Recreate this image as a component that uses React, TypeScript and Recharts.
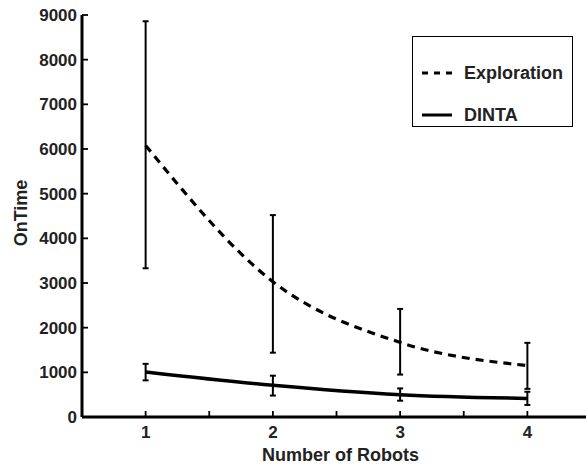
import React from 'react';
import { LineChart, Line, XAxis, YAxis, ErrorBar, Legend } from 'recharts';

// mean OnTime with min/max spread per team size
const robots = [1, 2, 3, 4];
const explorationMean = [6080, 3030, 1670, 1150];
const explorationLow = [3330, 1440, 950, 630];
const explorationHigh = [8860, 4520, 2420, 1660];
const dintaMean = [1010, 710, 500, 415];
const dintaLow = [820, 480, 365, 270];
const dintaHigh = [1190, 925, 640, 565];

const seriesNames = ['Exploration', 'DINTA'];
const xTicks = [1, 1.5, 2, 2.5, 3, 3.5, 4];
const yTicks = [0, 1000, 2000, 3000, 4000, 5000, 6000, 7000, 8000, 9000];

const data = robots.map((n, i) => ({
    robots: n,
    exploration: explorationMean[i],
    explorationErr: [explorationMean[i] - explorationLow[i], explorationHigh[i] - explorationMean[i]],
    dinta: dintaMean[i],
    dintaErr: [dintaMean[i] - dintaLow[i], dintaHigh[i] - dintaMean[i]],
}));

const font = '"Liberation Sans", Arial, Helvetica, sans-serif';
const ink = '#222';
const tickStroke = {stroke: '#000', strokeWidth: 1.8};

// only whole robot counts get a label, half steps are bare tick marks
const XTick = (props: any) => {
    const {x, y, payload} = props;
    if (!Number.isInteger(payload.value)) return <g/>;
    return (
        <text x={x} y={y} dy="0.71em" textAnchor="middle" fontFamily={font} fontWeight="bold"
              fontSize={17} fill={ink}>
            {payload.value}
        </text>
    );
};

const YTick = (props: any) => {
    const {x, y, payload} = props;
    return (
        <text x={x} y={y} dy="0.36em" textAnchor="end" fontFamily={font} fontWeight="bold"
              fontSize={17} fill={ink}>
            {payload.value}
        </text>
    );
};

const NoLabel = () => <g/>;

const dashes = ['6 6', undefined];

const renderLegend = () => (
    <div style={{
        width: 161, height: 91, border: '1.5px solid #000', boxSizing: 'border-box', background: '#fff',
        position: 'relative', fontFamily: font, fontWeight: 'bold', fontSize: 18, color: ink,
    }}>
        {seriesNames.map((name, i) => (
            <div key={name} style={{
                position: 'absolute', left: 9, top: i === 0 ? 25 : 67, height: 22,
                display: 'flex', alignItems: 'center', whiteSpace: 'nowrap',
            }}>
                <svg width={30} height={6}>
                    <line x1={0} x2={30} y1={3} y2={3} stroke="#000" strokeWidth={3}
                          strokeDasharray={dashes[i]}/>
                </svg>
                <span style={{marginLeft: 12}}>{name}</span>
            </div>
        ))}
    </div>
);

export default function App() {
    return (
        <div style={{position: 'absolute', left: 0, top: 0, width: 586, height: 469, overflow: 'hidden', background: '#fff'}}>
            <LineChart width={600} height={469} data={data} margin={{top: 15, right: 9, bottom: 0, left: 0}}>
                {/* negative tickSize turns the tick marks inwards */}
                <XAxis dataKey="robots" type="number" domain={[0.5, 4.5]} ticks={xTicks} allowDataOverflow
                       height={52} tickLine={tickStroke} tickSize={-6} tickMargin={15} tick={<XTick/>}
                       axisLine={{stroke: '#000', strokeWidth: 3}}
                       label={{
                           value: 'Number of Robots', position: 'insideBottom', offset: 8, dx: 4,
                           style: {fontFamily: font, fontWeight: 'bold', fontSize: 18, fill: ink},
                       }}/>
                <XAxis xAxisId="top" orientation="top" type="number" domain={[0.5, 4.5]} ticks={xTicks}
                       allowDataOverflow height={0} tickLine={tickStroke} tickSize={-6} tickMargin={0}
                       tick={<NoLabel/>} axisLine={{stroke: '#000', strokeWidth: 2.5}}/>
                <YAxis type="number" domain={[0, 9000]} ticks={yTicks} allowDataOverflow width={82}
                       tickLine={tickStroke} tickSize={-6} tickMargin={11} tick={<YTick/>}
                       axisLine={{stroke: '#000', strokeWidth: 3}}
                       label={{
                           content: ({viewBox}: any) => {
                               const cx = viewBox.x + 27;
                               const cy = viewBox.y + viewBox.height / 2 - 3;
                               return (
                                   <text x={cx} y={cy} transform={`rotate(-90, ${cx}, ${cy})`} textAnchor="middle"
                                         fontFamily={font} fontWeight="bold" fontSize={18} fill={ink}>
                                       OnTime
                                   </text>
                               );
                           },
                       }}/>
                <Legend layout="vertical" align="center" verticalAlign="middle" content={renderLegend}
                        wrapperStyle={{left: 412, top: 36, width: 161, height: 91}}/>
                <Line type="monotone" dataKey="exploration" name={seriesNames[0]} stroke="#000" strokeWidth={3.2}
                      strokeDasharray="8 6" dot={false} isAnimationActive={false}>
                    <ErrorBar dataKey="explorationErr" direction="y" width={3} stroke="#000" strokeWidth={2}/>
                </Line>
                <Line type="monotone" dataKey="dinta" name={seriesNames[1]} stroke="#000" strokeWidth={3.5}
                      dot={false} isAnimationActive={false}>
                    <ErrorBar dataKey="dintaErr" direction="y" width={3} stroke="#000" strokeWidth={2}/>
                </Line>
            </LineChart>
        </div>
    );
}
